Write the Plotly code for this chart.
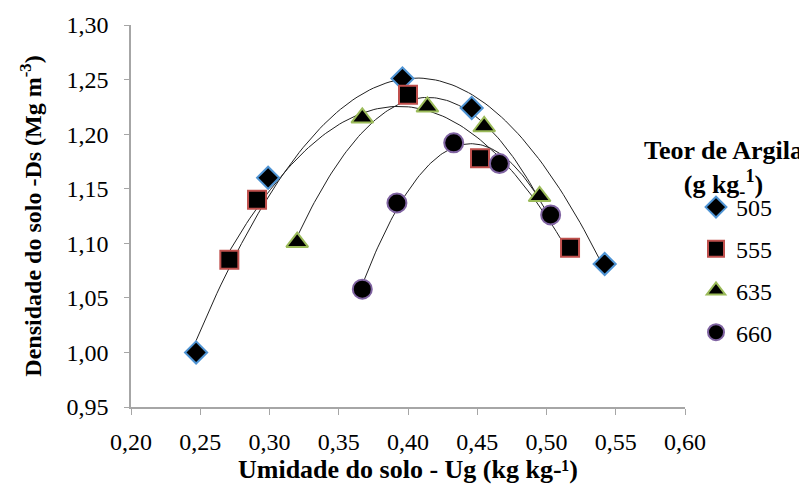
import numpy as np
import plotly.graph_objects as go

# Data
x505 = [0.247, 0.299, 0.396, 0.446, 0.542]
y505 = [1.000, 1.160, 1.251, 1.224, 1.081]
x555 = [0.271, 0.291, 0.400, 0.452, 0.517]
y555 = [1.085, 1.140, 1.236, 1.178, 1.096]
x635 = [0.320, 0.367, 0.414, 0.455, 0.495]
y635 = [1.101, 1.215, 1.225, 1.207, 1.143]
x660 = [0.367, 0.392, 0.433, 0.466, 0.503]
y660 = [1.058, 1.137, 1.192, 1.173, 1.126]
names = ["505", "555", "635", "660"]

series = [
    (x505, y505, "diamond", "#4f94d4", 17),
    (x555, y555, "square", "#c0504d", 18),
    (x635, y635, "triangle-up", "#9bbb59", 19),
    (x660, y660, "circle", "#8064a2", 19),
]

FONT = "Liberation Serif"
fig = go.Figure()

# quadratic trendlines
for (xs, ys, sym, col, sz), nm in zip(series, names):
    c = np.polyfit(xs, ys, 2)
    xx = np.linspace(min(xs), max(xs), 100)
    fig.add_trace(go.Scatter(x=xx, y=np.polyval(c, xx), mode="lines",
                             line=dict(color="#222222", width=1),
                             showlegend=False, hoverinfo="skip"))

for (xs, ys, sym, col, sz), nm in zip(series, names):
    fig.add_trace(go.Scatter(x=xs, y=ys, mode="markers", name=nm, legendgroup=nm,
                             marker=dict(symbol=sym, size=sz, color="black",
                                         line=dict(color=col, width=2))))

# plot area in figure pixels (page has an 8px body margin)
L, R, T, B = 123, 677, 17, 399
W, H = 807, 484

fig.update_layout(
    width=W, height=H,
    margin=dict(l=L, r=W - R, t=T, b=H - B, autoexpand=False),
    paper_bgcolor="white", plot_bgcolor="white",
    separators=",.",
    font=dict(family=FONT, size=24, color="black"),
    showlegend=True,
    legend=dict(x=(688 - L) / (R - L), y=(B - 177) / (B - T),
                xanchor="left", yanchor="top",
                font=dict(family=FONT, size=24), tracegroupgap=7.5,
                itemwidth=30, bgcolor="rgba(0,0,0,0)"),
    xaxis=dict(range=[0.2, 0.6], dtick=0.05, tickformat=".2f",
               showgrid=False, zeroline=False, showline=True,
               linecolor="#a6a6a6", linewidth=1.5, ticks="outside",
               ticklen=6, tickcolor="#a6a6a6", ticklabelstandoff=6,
               title=dict(text="<b>Umidade do solo - Ug (kg kg-¹)</b>",
                          font=dict(family=FONT, size=26), standoff=4)),
    yaxis=dict(range=[0.95, 1.30], dtick=0.05, tickformat=".2f",
               showgrid=False, zeroline=False, showline=True,
               linecolor="#a6a6a6", linewidth=1.5, ticks="outside",
               ticklen=5, tickcolor="#a6a6a6", ticklabelstandoff=11,
               title=dict(text="<b>Densidade do solo -Ds (Mg m<sup>-3</sup>)</b>",
                          font=dict(family=FONT, size=24), standoff=18)),
)
fig.add_annotation(x=(716 - L) / (R - L), y=(B - 161) / (B - T), xref="paper", yref="paper",
                   text="<b>Teor de Argila</b><br><b>(g kg<sub>-</sub><sup>1</sup>)</b>",
                   showarrow=False, xanchor="center", yanchor="middle",
                   font=dict(family=FONT, size=26), align="center")

fig.write_html("out.html")
